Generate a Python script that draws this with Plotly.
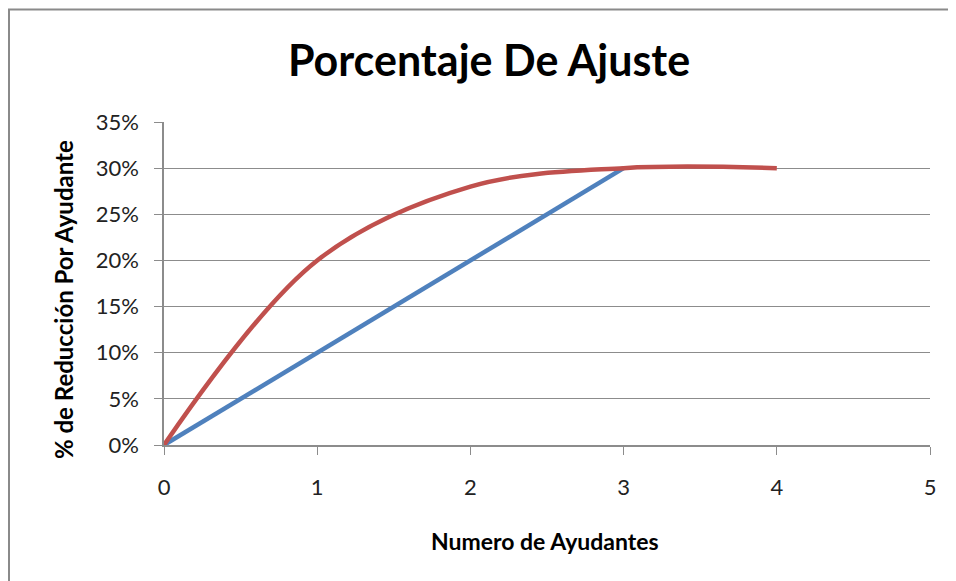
import plotly.graph_objects as go

x_blue = [0, 1, 2, 3]
y_blue = [0.0, 0.10, 0.20, 0.30]
x_red = [0, 1, 2, 3, 4]
y_red = [0.0, 0.20, 0.28, 0.30, 0.30]

title = "Porcentaje De Ajuste"
x_title = "Numero de Ayudantes"
y_title = "% de Reducción Por Ayudante"

FONT = "Lato"

fig = go.Figure()
fig.add_trace(go.Scatter(x=x_blue, y=y_blue, mode="lines",
                         line=dict(color="#4F81BD", width=4.5), showlegend=False))
fig.add_trace(go.Scatter(x=x_red, y=y_red, mode="lines",
                         line=dict(color="#C0504D", width=4.5, shape="spline", smoothing=1.0),
                         showlegend=False))

# page body has an 8px margin, so figure coords = screen coords - 8
W, H = 956, 581
L, R, T, B = 156, 34, 114, 144
pw, ph = W - L - R, H - T - B
base = T + ph  # figure y of the x axis


def px(xf):
    return (xf - L) / pw


def py(yf):
    return (base - yf) / ph


fig.update_layout(
    width=W, height=H,
    margin=dict(l=L, r=R, t=T, b=B),
    paper_bgcolor="white", plot_bgcolor="white",
    font=dict(family=FONT, color="#222"),
    title=dict(text=title, x=px(481), xref="paper", xanchor="center",
               y=1 - 53 / H, yanchor="middle",
               font=dict(family=FONT, size=43, color="black", weight="bold")),
    xaxis=dict(range=[0, 5], dtick=1, tick0=0, showgrid=False, zeroline=False,
               showline=True, linecolor="#8c8c8c", linewidth=1.5,
               ticks="outside", ticklen=8, tickcolor="#8c8c8c", ticklabelstandoff=14,
               tickfont=dict(size=22, color="#222", family=FONT)),
    yaxis=dict(range=[0, 0.35], dtick=0.05, tick0=0, tickformat=".0%",
               showgrid=True, gridcolor="#8c8c8c", gridwidth=1, zeroline=False,
               showline=True, linecolor="#8c8c8c", linewidth=1.5,
               ticks="outside", ticklen=8, tickcolor="#8c8c8c", ticklabelstandoff=11,
               tickfont=dict(size=22, color="#222", family=FONT)),
    annotations=[
        dict(text=x_title, xref="paper", yref="paper", x=px(537), y=py(533),
             xanchor="center", yanchor="middle", showarrow=False,
             font=dict(size=23, color="black", family=FONT, weight="bold")),
        dict(text=y_title, xref="paper", yref="paper", x=px(55), y=py(292),
             xanchor="center", yanchor="middle", showarrow=False, textangle=-90,
             font=dict(size=24, color="black", family=FONT, weight="bold")),
    ],
    shapes=[dict(type="rect", xref="paper", yref="paper", layer="below",
                 x0=px(1), x1=px(W + 10),
                 y0=py(H + 10), y1=py(1.5),
                 line=dict(color="#8a8a8a", width=2), fillcolor="rgba(0,0,0,0)")],
)

fig.write_html("out.html")
